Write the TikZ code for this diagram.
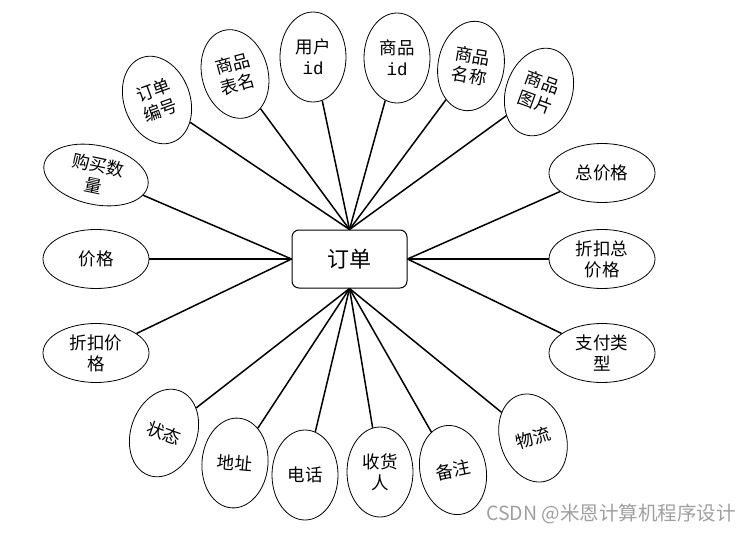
\documentclass[tikz,border=0pt]{standalone}
\usepackage{fontspec}
\setmainfont{Noto Sans CJK SC}
\newfontfamily\idfont{Liberation Mono}
\usetikzlibrary{shapes.geometric}

\begin{document}
\begin{tikzpicture}[
    x=1pt, y=-1pt,
    % Styles
    attr/.style={ellipse, draw=black, line width=0.8pt, inner sep=0pt, align=center,
        minimum width=66pt, minimum height=90pt, font=\fontsize{17.5}{21}\selectfont},
    attr_wide/.style={attr, minimum width=106pt, minimum height=59pt},
    order_box/.style={rectangle, draw=black, line width=1pt, rounded corners=7pt,
        minimum width=115pt, minimum height=58pt, font=\fontsize{22}{25}\selectfont},
    link/.style={line width=1.5pt}
]
    \useasboundingbox (0,0) rectangle (752,535);

    % 1. THE ENTITY
    \node[order_box] (order) at (349.5,259) {订单};

    % 2. TOP ATTRIBUTES
    \node[attr, rotate=20] (order_no) at (157,100) {订单\\编号};
    \node[attr, rotate=15] (table_name) at (235,74) {商品\\表名};
    \node[attr] (user_id) at (313,57) {用户\\{\idfont id}};
    \node[attr] (goods_id) at (397,58) {商品\\{\idfont id}};
    \node[attr, rotate=-10] (goods_name) at (471,66) {商品\\名称};
    \node[attr, rotate=-20] (goods_img) at (539,92) {商品\\图片};

    % 3. SIDE ATTRIBUTES
    \node[attr_wide, rotate=-12] (buy_num) at (96,175) {购买数\\量};
    \node[attr_wide] (price) at (96,259) {价格};
    \node[attr_wide] (disc_price) at (96,353) {折扣价\\格};
    \node[attr_wide] (total_price) at (602,173) {总价格};
    \node[attr_wide] (disc_total) at (602,259) {折扣总\\价格};
    \node[attr_wide] (pay_type) at (602,353) {支付类\\型};

    % 4. BOTTOM ATTRIBUTES
    \node[attr, rotate=-20] (status) at (164,433) {状态};
    \node[attr, rotate=-5] (address) at (235,463) {地址};
    \node[attr] (phone) at (305,475) {电话};
    \node[attr] (receiver) at (380,472) {收货\\人};
    \node[attr, rotate=12] (remark) at (453,470) {备注};
    \node[attr, rotate=18] (logistics) at (533,438) {物流};

    % 5. LINKS
    \foreach \a in {order_no, table_name, user_id, goods_id, goods_name, goods_img}
        \draw[link] (order.north) -- (\a);
    \foreach \a in {buy_num, price, disc_price}
        \draw[link] (order.west) -- (\a);
    \foreach \a in {total_price, disc_total, pay_type}
        \draw[link] (order.east) -- (\a);
    \foreach \a in {status, address, phone, receiver, remark, logistics}
        \draw[link] (order.south) -- (\a);

    % watermark
    \node[text=gray!75, font=\fontsize{19.5}{22}\selectfont] (mark) at (611,514) {CSDN @米恩计算机程序设计};

\end{tikzpicture}
\end{document}
